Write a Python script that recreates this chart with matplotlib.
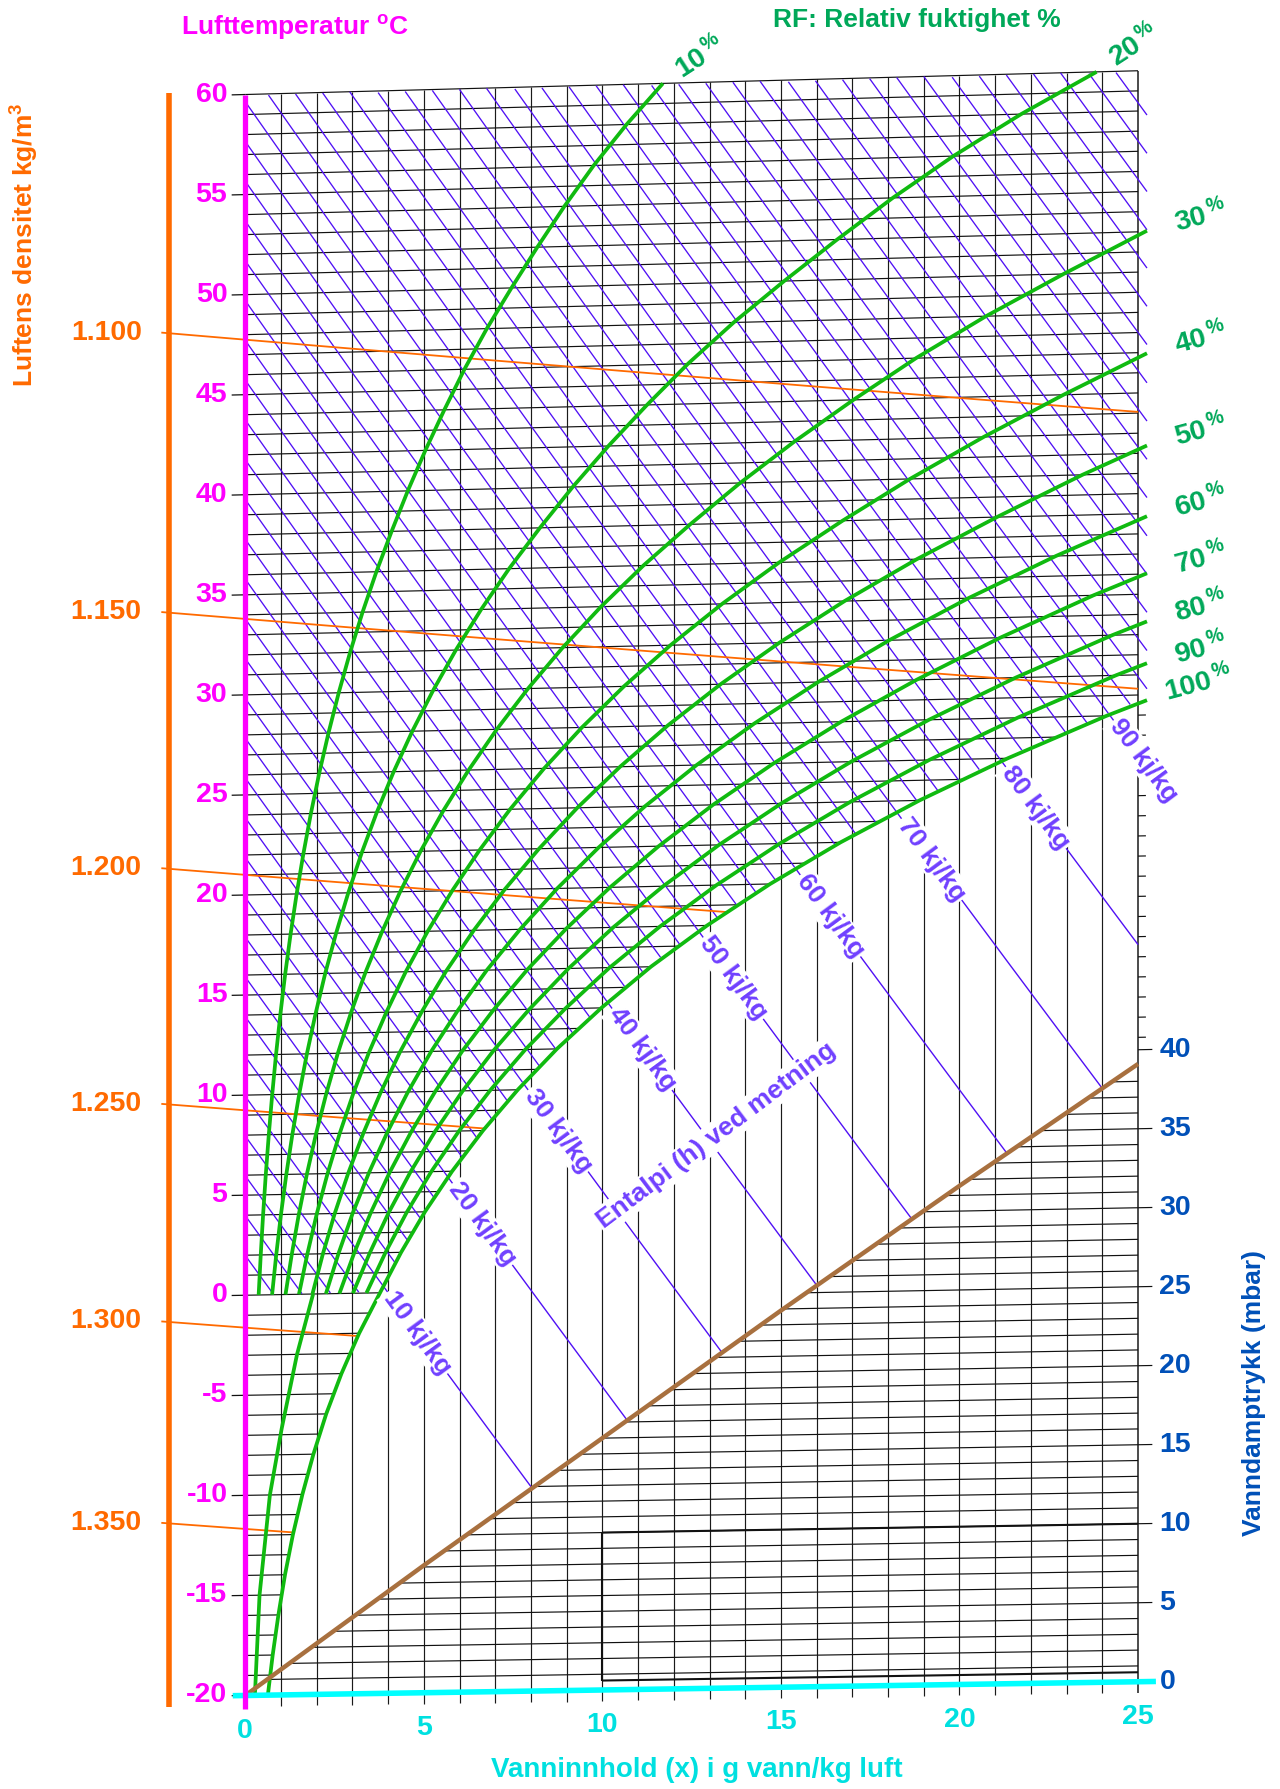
import numpy as np
import matplotlib
matplotlib.use('Agg')
import matplotlib.pyplot as plt

plt.rcParams['font.family'] = ['Liberation Sans', 'DejaVu Sans']
plt.rcParams['font.weight'] = 'bold'
plt.rcParams['mathtext.fontset'] = 'custom'
plt.rcParams['mathtext.rm'] = 'Liberation Sans:bold'
plt.rcParams['mathtext.it'] = 'Liberation Sans:bold'
plt.rcParams['mathtext.bf'] = 'Liberation Sans:bold'

# metningstrykk (mbar) slik diagrammet viser det, is under 0 grader
sat_temp = [-20, -18, -16, -14, -12, -10, -8, -6, -4, -2, 0, 2, 4, 6, 8, 10,
            12, 14, 16, 18, 20, 22, 24, 26, 28, 30, 32, 34, 36, 38, 40, 42,
            44, 46, 48, 50, 52, 54, 56, 58, 60]
sat_p = [1.03, 1.25, 1.51, 1.81, 2.17, 2.60, 3.10, 3.68, 4.37, 5.17, 6.11,
         7.06, 8.13, 9.35, 10.73, 12.28, 14.02, 15.99, 18.17, 20.64, 23.39,
         26.45, 29.85, 33.63, 37.82, 42.46, 47.58, 53.24, 59.47, 66.33, 73.6,
         81.5, 90.0, 99.0, 109.0, 120.0, 131.5, 143.5, 156.5, 171.0, 187.0]

rf_levels = [10, 20, 30, 40, 50, 60, 70, 80, 90, 100]

# kurve under 0 grader (uten merke)
low_temp = [0, -3, -6.7, -10, -15, -20]
low_x = [1.9, 1.45, 1.02, 0.69, 0.40, 0.27]

h_grid = list(range(2, 126, 2))
h_marked = [10, 20, 30, 40, 50, 60, 70, 80, 90]

rho_values = [1.100, 1.150, 1.200, 1.250, 1.300, 1.350]
rho_labels = ['1.100', '1.150', '1.200', '1.250', '1.300', '1.350']

temp_ticks = [60, 55, 50, 45, 40, 35, 30, 25, 20, 15, 10, 5, 0, -5, -10, -15, -20]
x_ticks = [0, 5, 10, 15, 20, 25]
p_ticks = [0, 5, 10, 15, 20, 25, 30, 35, 40]

brown_x = [0, 5, 10, 15, 20, 25]
brown_p = [0, 8.1, 16.0, 23.9, 31.6, 39.1]

P_TOT = 1013.25
MAGENTA = '#ff00ff'
ORANGE = '#ff6a00'
GREEN = '#10ba10'
RFGREEN = '#00a859'
VIOLET = '#5010f5'
VIOLET_TXT = '#7040ff'
CYAN = '#00ffff'
CYAN_TXT = '#00e0e0'
BLUE = '#0050b8'
BROWN = '#a8703f'
TICK_FS = 20.5


def skew(t):
    return 0.0275 + 0.00025 * (np.asarray(t) + 20)


def ypos(t, x):
    return t + skew(t) * x


def t_mbar(p):
    return -20 + 0.7846 * np.asarray(p)


def y_mbar(p, x):
    return ypos(t_mbar(p), x)


def p_sat(t):
    return np.interp(t, sat_temp, sat_p)


def x_from_p(p):
    return 622 * p / (P_TOT - p)


def p_from_x(x):
    return P_TOT * x / (622 + x)


def t_from_h(h, x):
    return (h - 2.501 * x) / (1.006 + 0.00186 * x)


def t_from_rho(rho, x):
    return P_TOT * 100 * (1 + x / 1000) / (rho * 287.05 * (1 + 1.608 * x / 1000)) - 273.15


def y_brown(x):
    return y_mbar(np.interp(x, brown_x, brown_p), x)


fig = plt.figure(figsize=(12.8, 17.89), dpi=100)
fig.patch.set_facecolor('white')
ax = fig.add_axes([0.1916, 0.05227, 0.6975, 0.8949])
ax.set_xlim(0, 25)
ax.set_ylim(-20, 60)
ax.axis('off')

kw = dict(clip_on=False, solid_capstyle='butt')

# vertikale linjer (x)
for xv in range(1, 26):
    ax.plot([xv, xv], [y_mbar(0, xv) - 0.55, ypos(60, xv)], color='#1a1a1a',
            lw=1.1 if xv == 25 else 0.85, zorder=1, **kw)

# isotermer
for t in range(-19, 61):
    x_end = min(25, x_from_p(p_sat(t)))
    ax.plot([0, x_end], [ypos(t, 0), ypos(t, x_end)], color='#111111', lw=0.85, zorder=1, **kw)
for t in temp_ticks:
    ax.plot([-0.38, 0], [ypos(t, -0.38), ypos(t, 0)], color='#111111', lw=0.9, zorder=1, **kw)
# merker på høyre kant i tåkeområdet
for t in range(12, 30):
    if x_from_p(p_sat(t)) < 25 and ypos(t, 25) > y_mbar(brown_p[-1], 25):
        ax.plot([25, 25.22], [ypos(t, 25), ypos(t, 25.22)], color='#111111', lw=0.85, **kw)

# damptrykklinjer
for p in range(1, 41):
    x0 = np.interp(p, brown_p, brown_x)
    x1 = 25.4 if p % 5 == 0 else 25
    ax.plot([x0, x1], [y_mbar(p, x0), y_mbar(p, x1)], color='#111111', lw=0.85, zorder=1, **kw)
ax.plot([10, 25], [y_mbar(10, 10), y_mbar(10, 25)], color='#111111', lw=1.5, zorder=1, **kw)
ax.plot([10, 25], [y_mbar(0.6, 10), y_mbar(0.6, 25)], color='#111111', lw=1.5, zorder=1, **kw)
ax.plot([10, 10], [y_mbar(0.6, 10), y_mbar(10, 10)], color='#111111', lw=1.5, zorder=1, **kw)

# entalpilinjer (rutenett)
xs = np.linspace(0, 25.25, 700)
for h in h_grid:
    t = t_from_h(h, xs)
    ok = (t >= 0) & (t <= 60) & (p_from_x(xs) <= p_sat(t))
    ax.plot(xs, np.where(ok, ypos(t, xs), np.nan), color=VIOLET, lw=0.95, zorder=2, **kw)

# entalpi ved metning, merket
xf = np.linspace(0, 25, 1500)
for h in h_marked:
    t = t_from_h(h, xf)
    y = ypos(t, xf)
    fog = (p_from_x(xf) >= p_sat(t)) & (y >= y_brown(xf))
    ax.plot(xf, np.where(fog, y, np.nan), color=VIOLET, lw=1.0, zorder=2, **kw)
    i0 = np.argmax(fog)
    xl = xf[i0] + 0.15
    yl = ypos(t_from_h(h, xl), xl)
    p1 = ax.transData.transform((xl, yl))
    p2 = ax.transData.transform((xl + 1, ypos(t_from_h(h, xl + 1), xl + 1)))
    ang = np.degrees(np.arctan2(p2[1] - p1[1], p2[0] - p1[0]))
    ax.text(xl, yl, f'{h} kj/kg', color=VIOLET_TXT, fontsize=19, rotation=ang,
            rotation_mode='anchor', ha='left', va='center', zorder=6,
            bbox=dict(facecolor='white', edgecolor='none', pad=1.5), clip_on=False)

ax.text(13.2, 8.0, 'Entalpi (h) ved metning', color=VIOLET_TXT, fontsize=19, rotation=37,
        rotation_mode='anchor', ha='center', va='center', zorder=6,
        bbox=dict(facecolor='white', edgecolor='none', pad=1.5))

# densitetslinjer
xd = np.linspace(-2.35, 25, 1200)
for rho, lab in zip(rho_values, rho_labels):
    t = t_from_rho(rho, xd)
    sat = (xd > 0) & (p_from_x(np.maximum(xd, 0)) >= p_sat(t))
    n = np.argmax(sat) if sat.any() else len(xd)
    ax.plot(xd[:n], ypos(t[:n], xd[:n]), color=ORANGE, lw=1.3, zorder=3, **kw)
    ax.text(-2.9, ypos(t[0], xd[0]), lab, color=ORANGE, fontsize=TICK_FS, ha='right', va='center')
ax.plot([-2.13, -2.13], [-20.6, 60.1], color=ORANGE, lw=4, **kw)

# relativ fuktighet
t_arr = np.array(sat_temp, dtype=float)
p_arr = np.array(sat_p)
for phi in rf_levels:
    f = phi / 100
    sel = t_arr >= 0 if phi < 100 else np.ones_like(t_arr, dtype=bool)
    tt = t_arr[sel]
    xx = x_from_p(f * p_arr[sel])
    if xx.max() > 25.25:
        k = np.argmax(xx > 25.25)
        t_cut = np.interp(25.25, xx[k - 1:k + 1], tt[k - 1:k + 1])
        tt = np.append(tt[:k], t_cut)
        xx = np.append(xx[:k], 25.25)
    yy = ypos(tt, xx)
    ax.plot(xx, yy, color=GREEN, lw=2.7, zorder=4, **kw)
    lab = f'{phi}' + r'$^{\,\%}$'
    if tt[-1] >= 59.5:
        ax.text(xx[-1] + 1.05, yy[-1] + 1.3, lab, color=RFGREEN, fontsize=20.5, rotation=33,
                ha='center', va='center')
    else:
        x_lab = 0.5 if phi == 100 else 0.8
        ax.text(xx[-1] + x_lab, yy[-1] + 0.35, lab, color=RFGREEN, fontsize=20.5, rotation=15,
                ha='left', va='center', rotation_mode='anchor')
ax.plot(low_x, ypos(np.array(low_temp), np.array(low_x)), color=GREEN, lw=2.7, zorder=4, **kw)

# damptrykk (brun) og 0-linje
bx = np.array(brown_x, dtype=float)
ax.plot(bx, y_mbar(np.array(brown_p), bx), color=BROWN, lw=3.2, zorder=5, **kw)
ax.plot([-0.35, 25.5], [y_mbar(0, -0.35), y_mbar(0, 25.5)], color=CYAN, lw=4, zorder=5, **kw)

# temperaturakse
ax.plot([0, 0], [-20.7, 60], color=MAGENTA, lw=3.8, zorder=5, **kw)
for t in temp_ticks:
    ax.text(-0.5, t, str(t), color=MAGENTA, fontsize=TICK_FS, ha='right', va='center')

for xv in x_ticks:
    ax.text(xv, y_mbar(0, xv) - 1.75, str(xv), color=CYAN_TXT, fontsize=TICK_FS, ha='center', va='center')
for p in p_ticks:
    ax.text(25.6, y_mbar(p, 25), str(p), color=BLUE, fontsize=TICK_FS, ha='left', va='center')

fig.text(0.2305, 0.9845, r'Lufttemperatur $^{\mathrm{o}}$C', color=MAGENTA, fontsize=19,
         ha='center', va='center')
fig.text(0.716, 0.9888, 'RF: Relativ fuktighet %', color=RFGREEN, fontsize=19, ha='center', va='center')
fig.text(0.0195, 0.863, r'Luftens densitet kg/m$^{3}$', color=ORANGE, fontsize=19, rotation=90,
         ha='center', va='center')
fig.text(0.9797, 0.2214, 'Vanndamptrykk (mbar)', color=BLUE, fontsize=19, rotation=90,
         ha='center', va='center')
fig.text(0.5445, 0.0105, 'Vanninnhold (x) i g vann/kg luft', color=CYAN_TXT, fontsize=20,
         ha='center', va='center')

fig.savefig('out.png', dpi=100, facecolor='white')
